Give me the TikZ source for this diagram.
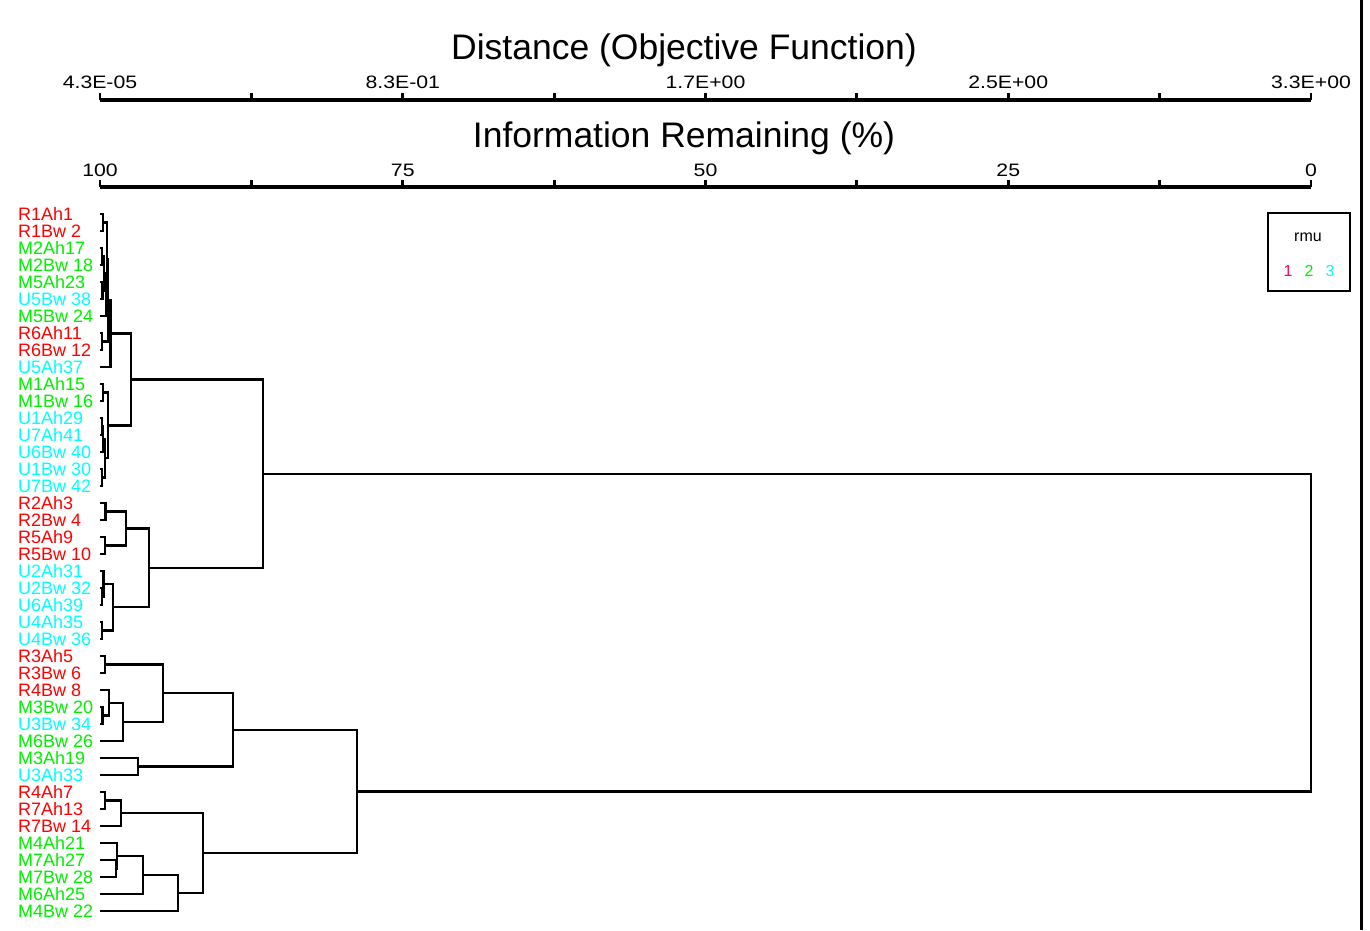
\documentclass[tikz,border=0pt]{standalone}
\usepackage{fontspec}
\setmainfont{Liberation Sans}
\usetikzlibrary{calc}
\definecolor{rc}{RGB}{255,0,0}
\definecolor{mc}{RGB}{0,240,0}
\definecolor{uc}{RGB}{0,255,255}
\definecolor{pc}{RGB}{255,0,90}
\newcommand\leaf[3]{%
  \node[leaflab,text=#3] (l#1) at (18,{220.5+17*(#1-1)}) {#2};
  \coordinate (v#1) at (101,{214+17*(#1-1)});}
\newcommand\dgjoin[4]{%
  \coordinate (tmp) at ($(#1)!0.5!(#2)$);
  \coordinate (#3) at (#4,0 |- tmp);
  \draw[branch] (#1) -| (#3) |- (#2);}
\begin{document}
\begin{tikzpicture}[x=1pt,y=-1pt,
  leaflab/.style={anchor=base west,inner sep=0pt,font=\fontsize{18}{18}\selectfont},
  ticklab/.style={anchor=base,inner sep=0pt,xscale=1.18,font=\fontsize{18}{18}\selectfont},
  axtitle/.style={anchor=base,inner sep=0pt,font=\fontsize{35.5}{35.5}\selectfont},
  branch/.style={line width=2.2pt,line cap=rect},
  axisline/.style={line width=3.4pt},
  tickmark/.style={line width=2.8pt}]
\useasboundingbox (0,0) rectangle (1370,930);
\fill[white] (0,0) rectangle (1370,930);
% right border
\draw[line width=3pt] (1361,0) -- (1361,930);
% axis titles
\node[axtitle] (t1) at (684,59) {Distance (Objective Function)};
\node[axtitle] (t2) at (684,147) {Information Remaining (\%)};
% axes
\draw[axisline] (100,100) -- (1311,100);
\draw[axisline] (100,187) -- (1311,187);
\foreach \k in {0,...,8}{
  \draw[tickmark] ({100+151.375*\k},100) -- ({100+151.375*\k},93);
  \draw[tickmark] ({100+151.375*\k},187) -- ({100+151.375*\k},180);}
\node[ticklab] (d0) at (100,88) {4.3E-05};
\node[ticklab] (d1) at (402.75,88) {8.3E-01};
\node[ticklab] (d2) at (705.5,88) {1.7E+00};
\node[ticklab] (d3) at (1008.25,88) {2.5E+00};
\node[ticklab] (d4) at (1311,88) {3.3E+00};
\node[ticklab] (p0) at (100,176) {100};
\node[ticklab] (p1) at (402.75,176) {75};
\node[ticklab] (p2) at (705.5,176) {50};
\node[ticklab] (p3) at (1008.25,176) {25};
\node[ticklab] (p4) at (1311,176) {0};
% legend
\node[draw,line width=2pt,minimum width=82pt,minimum height=78pt,inner sep=0pt] (leg) at (1309,252) {};
\node[anchor=base,inner sep=0pt,font=\fontsize{16}{16}\selectfont] (legt) at (1308,241) {rmu};
\node[anchor=base,inner sep=0pt,text=pc,font=\fontsize{16}{16}\selectfont] (lg1) at (1288,276) {1};
\node[anchor=base,inner sep=0pt,text=mc,font=\fontsize{16}{16}\selectfont] (lg2) at (1309,276) {2};
\node[anchor=base,inner sep=0pt,text=uc,font=\fontsize{16}{16}\selectfont] (lg3) at (1330,276) {3};
% leaves
\leaf{1}{R1Ah1}{rc}
\leaf{2}{R1Bw 2}{rc}
\leaf{3}{M2Ah17}{mc}
\leaf{4}{M2Bw 18}{mc}
\leaf{5}{M5Ah23}{mc}
\leaf{6}{U5Bw 38}{uc}
\leaf{7}{M5Bw 24}{mc}
\leaf{8}{R6Ah11}{rc}
\leaf{9}{R6Bw 12}{rc}
\leaf{10}{U5Ah37}{uc}
\leaf{11}{M1Ah15}{mc}
\leaf{12}{M1Bw 16}{mc}
\leaf{13}{U1Ah29}{uc}
\leaf{14}{U7Ah41}{uc}
\leaf{15}{U6Bw 40}{uc}
\leaf{16}{U1Bw 30}{uc}
\leaf{17}{U7Bw 42}{uc}
\leaf{18}{R2Ah3}{rc}
\leaf{19}{R2Bw 4}{rc}
\leaf{20}{R5Ah9}{rc}
\leaf{21}{R5Bw 10}{rc}
\leaf{22}{U2Ah31}{uc}
\leaf{23}{U2Bw 32}{uc}
\leaf{24}{U6Ah39}{uc}
\leaf{25}{U4Ah35}{uc}
\leaf{26}{U4Bw 36}{uc}
\leaf{27}{R3Ah5}{rc}
\leaf{28}{R3Bw 6}{rc}
\leaf{29}{R4Bw 8}{rc}
\leaf{30}{M3Bw 20}{mc}
\leaf{31}{U3Bw 34}{uc}
\leaf{32}{M6Bw 26}{mc}
\leaf{33}{M3Ah19}{mc}
\leaf{34}{U3Ah33}{uc}
\leaf{35}{R4Ah7}{rc}
\leaf{36}{R7Ah13}{rc}
\leaf{37}{R7Bw 14}{rc}
\leaf{38}{M4Ah21}{mc}
\leaf{39}{M7Ah27}{mc}
\leaf{40}{M7Bw 28}{mc}
\leaf{41}{M6Ah25}{mc}
\leaf{42}{M4Bw 22}{mc}
% tree
\dgjoin{v1}{v2}{a12}{103}
\dgjoin{v3}{v4}{a34}{102}
\dgjoin{v5}{v6}{a56}{102.5}
\dgjoin{a34}{a56}{a36}{104}
\dgjoin{a36}{v7}{a37}{106}
\dgjoin{a12}{a37}{a17}{107}
\dgjoin{v8}{v9}{a89}{102}
\dgjoin{a17}{a89}{a19}{108}
\dgjoin{a19}{v10}{A}{110.5}
\dgjoin{v11}{v12}{b12}{103}
\dgjoin{v13}{v14}{b34}{102}
\dgjoin{b34}{v15}{b35}{103}
\dgjoin{v16}{v17}{b67}{102}
\dgjoin{b35}{b67}{b37}{105}
\dgjoin{b12}{b37}{B}{108}
\dgjoin{A}{B}{AB}{131}
\dgjoin{v18}{v19}{c12}{105.5}
\dgjoin{v20}{v21}{c34}{105}
\dgjoin{c12}{c34}{C1}{126}
\dgjoin{v23}{v24}{c67}{102}
\dgjoin{v22}{c67}{c57}{103.5}
\dgjoin{v25}{v26}{c89}{102}
\dgjoin{c57}{c89}{C2}{113}
\dgjoin{C1}{C2}{C}{149}
\dgjoin{AB}{C}{TOP}{263}
\dgjoin{v27}{v28}{d12}{105}
\dgjoin{v30}{v31}{d45}{102.5}
\dgjoin{v29}{d45}{d35}{109}
\dgjoin{d35}{v32}{d36}{123}
\dgjoin{d12}{d36}{D1}{163}
\dgjoin{v33}{v34}{D2}{138}
\dgjoin{D1}{D2}{D}{233}
\dgjoin{v35}{v36}{e12}{105}
\dgjoin{e12}{v37}{E1}{121}
\dgjoin{v39}{v40}{e56}{116}
\dgjoin{v38}{e56}{e46}{117}
\dgjoin{e46}{v41}{e47}{143}
\dgjoin{e47}{v42}{E2}{178}
\dgjoin{E1}{E2}{E}{203}
\dgjoin{D}{E}{BOT}{357}
\dgjoin{TOP}{BOT}{ROOT}{1311}
\end{tikzpicture}
\end{document}
